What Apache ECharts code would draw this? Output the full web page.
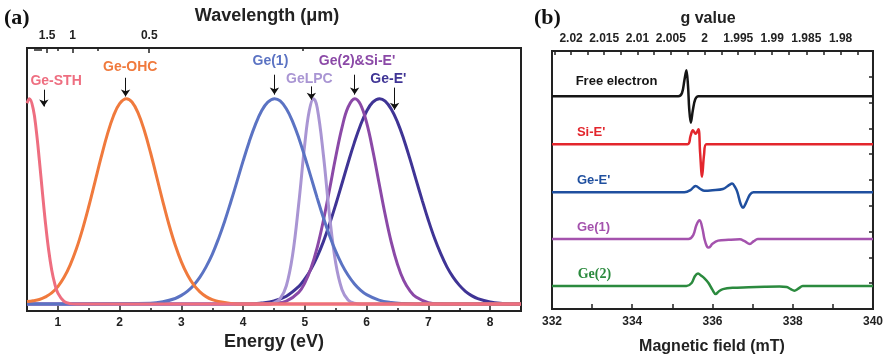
<!DOCTYPE html>
<html><head><meta charset="utf-8">
<script src="https://cdn.jsdelivr.net/npm/echarts@6/dist/echarts.min.js"></script>
<style>html,body{margin:0;padding:0;background:#fff}#c{width:886px;height:357px}</style>
</head><body><div id="c"></div>
<script>
// ---------- Panel (a) data: normalized band intensity vs energy (eV) ----------
const energyTicks = [1, 2, 3, 4, 5, 6, 7, 8];
const energyMinorTicks = [1.5, 2.5, 3.5, 4.5, 5.5, 6.5, 7.5];
const wavelengthLabels = [1.5, 1, 0.5];
const wavelengthMajorTicks = [1.5, 1, 0.5];
const wavelengthMinorTicks = [2, 1.9, 1.8, 1.7, 1.25, 0.75, 0.25];

const steE = [0.5, 0.54, 0.6, 0.65, 0.7, 0.75, 0.8, 0.85, 0.9, 0.95, 1.0, 1.1, 1.2, 1.3, 8.5];
const steI = [0.978, 1, 0.951, 0.846, 0.701, 0.543, 0.392, 0.264, 0.166, 0.098, 0.053, 0.013, 0.002, 0, 0];

const ohcE = [0.5, 0.6, 0.7, 0.8, 0.9, 1.0, 1.1, 1.2, 1.3, 1.4, 1.5, 1.6, 1.7, 1.8, 1.9, 2.0, 2.11, 2.2, 2.3, 2.4, 2.5, 2.6, 2.7, 2.8, 2.9, 3.0, 3.1, 3.2, 3.3, 3.4, 3.5, 3.6, 3.8, 4.0, 8.5];
const ohcI = [0.012, 0.016, 0.022, 0.035, 0.054, 0.085, 0.130, 0.191, 0.269, 0.365, 0.475, 0.594, 0.714, 0.825, 0.916, 0.976, 1, 0.984, 0.930, 0.845, 0.738, 0.619, 0.499, 0.386, 0.287, 0.205, 0.141, 0.093, 0.059, 0.036, 0.021, 0.012, 0.003, 0, 0];

const ge1E = [0.5, 2.5, 2.7, 2.9, 3.0, 3.1, 3.2, 3.3, 3.4, 3.5, 3.6, 3.7, 3.8, 3.9, 4.0, 4.1, 4.2, 4.3, 4.4, 4.51, 4.6, 4.7, 4.8, 4.9, 5.0, 5.1, 5.2, 5.3, 5.4, 5.5, 5.6, 5.7, 5.8, 5.9, 6.0, 6.2, 6.4, 6.6, 6.8, 8.5];
const ge1I = [0, 0.004, 0.011, 0.027, 0.042, 0.063, 0.092, 0.131, 0.181, 0.242, 0.317, 0.402, 0.497, 0.596, 0.697, 0.792, 0.875, 0.941, 0.983, 1, 0.989, 0.951, 0.890, 0.810, 0.716, 0.617, 0.516, 0.420, 0.333, 0.256, 0.192, 0.140, 0.099, 0.068, 0.046, 0.019, 0.007, 0.002, 0, 0];

const lpcE = [0.5, 4.4, 4.5, 4.6, 4.7, 4.8, 4.9, 5.0, 5.07, 5.14, 5.2, 5.3, 5.4, 5.5, 5.6, 5.7, 5.8, 5.9, 8.5];
const lpcI = [0, 0, 0.006, 0.026, 0.089, 0.236, 0.487, 0.783, 0.94, 1, 0.956, 0.726, 0.430, 0.198, 0.071, 0.020, 0.004, 0, 0];

const ge2E = [0.5, 4.3, 4.5, 4.7, 4.9, 5.0, 5.1, 5.2, 5.3, 5.4, 5.5, 5.6, 5.7, 5.81, 5.9, 6.0, 6.1, 6.2, 6.3, 6.4, 6.5, 6.6, 6.7, 6.8, 7.0, 7.2, 7.4, 8.5];
const ge2I = [0, 0, 0.003, 0.014, 0.057, 0.103, 0.175, 0.276, 0.407, 0.559, 0.717, 0.858, 0.959, 1, 0.972, 0.883, 0.748, 0.591, 0.436, 0.300, 0.193, 0.115, 0.065, 0.034, 0.007, 0.001, 0, 0];

const geeE = [0.5, 4.1, 4.3, 4.5, 4.7, 4.9, 5.0, 5.1, 5.2, 5.3, 5.4, 5.5, 5.6, 5.7, 5.8, 5.9, 6.0, 6.1, 6.21, 6.3, 6.4, 6.5, 6.6, 6.7, 6.8, 6.9, 7.0, 7.1, 7.2, 7.3, 7.4, 7.5, 7.6, 7.7, 7.8, 8.0, 8.2, 8.4, 8.5];
const geeI = [0, 0, 0.005, 0.015, 0.038, 0.085, 0.122, 0.170, 0.231, 0.304, 0.390, 0.485, 0.586, 0.688, 0.785, 0.871, 0.939, 0.983, 1, 0.988, 0.949, 0.886, 0.804, 0.708, 0.606, 0.505, 0.408, 0.320, 0.245, 0.181, 0.131, 0.092, 0.062, 0.041, 0.026, 0.010, 0.003, 0, 0];

const bandNames = ['Ge-E\'', 'Ge(2)&Si-E\'', 'GeLPC', 'Ge(1)', 'Ge-OHC', 'Ge-STH'];
const bandColors = ['#3f3495', '#8b49a7', '#a995d3', '#5b73c3', '#f07a3d', '#ee6e80'];
// arrow (x, top, tip) and label (x, y) positions in data units
const arrowE = [6.453, 5.806, 5.105, 4.507, 2.096, 0.773];
const arrowTop = [1.054, 1.117, 1.06, 1.117, 1.102, 1.044];
const arrowTip = [0.946, 1.02, 0.995, 1.02, 1.011, 0.962];
const labelE = [6.351, 5.845, 5.073, 4.442, 2.172, 0.971];
const labelY = [1.096, 1.182, 1.096, 1.182, 1.155, 1.084];

// ---------- Panel (b) data: EPR derivative spectra vs magnetic field (mT) ----------
const gLabels = ['2.02', '2.015', '2.01', '2.005', '2', '1.995', '1.99', '1.985', '1.98'];
const gTicks = [2.0225, 2.02, 2.0175, 2.015, 2.0125, 2.01, 2.0075, 2.005, 2.0025, 2.0, 1.9975, 1.995, 1.9925, 1.99, 1.9875, 1.985, 1.9825, 1.98, 1.9775];
const gFieldConst = 671.6; // mT at g = 1  (h*nu/muB)

const freeB = [332, 335.15, 335.24, 335.3, 335.35, 335.39, 335.42, 335.46, 335.51, 335.57, 335.65, 340];
const freeS = [0, 0, 0.12, 0.62, 1.0, 0.4, -0.5, -1.03, -0.55, -0.12, 0, 0];
const siB = [332, 335.38, 335.45, 335.51, 335.58, 335.65, 335.69, 335.74, 335.79, 335.85, 340];
const siS = [0, 0, 0.3, 0.54, 0.4, 0.58, -0.3, -1.26, -0.4, 0, 0];
const geEB = [332, 335.3, 335.45, 335.58, 335.7, 335.8, 336.0, 336.26, 336.42, 336.49, 336.56, 336.62, 336.7, 336.76, 336.84, 336.93, 337.02, 340];
const geES = [0, 0, 0.08, 0.24, 0.12, 0.05, 0.07, 0.12, 0.28, 0.33, 0.2, 0, -0.45, -0.6, -0.4, -0.1, 0, 0];
const ge1B = [332, 335.4, 335.52, 335.6, 335.68, 335.75, 335.8, 335.86, 335.91, 336.0, 336.14, 336.4, 336.68, 336.8, 336.93, 337.03, 337.13, 340];
const ge1S = [0, 0, 0.15, 0.55, 0.73, 0.4, 0, -0.28, -0.33, -0.18, -0.06, -0.03, -0.01, -0.08, -0.19, -0.08, 0, 0];
const ge2B = [332, 335.35, 335.48, 335.56, 335.64, 335.72, 335.8, 335.9, 336.0, 336.08, 336.16, 336.26, 336.5, 336.9, 337.3, 337.67, 337.85, 337.95, 338.04, 338.14, 338.25, 340];
const ge2S = [0, 0, 0.12, 0.38, 0.49, 0.4, 0.3, 0.12, -0.15, -0.31, -0.2, -0.12, -0.07, -0.05, -0.03, -0.02, -0.04, -0.12, -0.18, -0.1, 0, 0];

const eprNames = ['Free electron', 'Si-E\'', 'Ge-E\'', 'Ge(1)', 'Ge(2)'];
const eprColors = ['#151515', '#e3262d', '#1f4f9f', '#a452ad', '#2b8a3e'];
const eprOffsets = [8.25, 6.39, 4.53, 2.71, 0.89];
const eprLabelB = [332.59, 332.62, 332.62, 332.62, 332.64];
const eprLabelDY = [0.58, 0.45, 0.46, 0.44, 0.45];

// ---------- build ----------
const HC = 1.23984; // eV*um
const zip = (a, b, off) => a.map((v, i) => [v, b[i] + (off || 0)]);
const bandData = [zip(geeE, geeI), zip(ge2E, ge2I), zip(lpcE, lpcI), zip(ge1E, ge1I), zip(ohcE, ohcI), zip(steE, steI)];
const eprRaw = [[freeB, freeS], [siB, siS], [geEB, geES], [ge1B, ge1S], [ge2B, ge2S]];

const FONT = 'Liberation Sans, Arial, sans-serif';
const SERIF = 'Liberation Serif, Times New Roman, serif';
const AX = '#222';

const chart = echarts.init(document.getElementById('c'), null, {renderer: 'canvas'});

const baseAxis = (extra) => Object.assign({
  type: 'value', splitLine: {show: false},
  axisLine: {show: true, onZero: false, lineStyle: {color: AX, width: 2}},
}, extra);

const option = {
  animation: false,
  backgroundColor: '#fff',
  grid: [
    {left: 27, top: 48, width: 494, height: 263, show: true, borderColor: AX, borderWidth: 2},
    {left: 552, top: 51, width: 321, height: 258, show: true, borderColor: AX, borderWidth: 2}
  ],
  xAxis: [
    baseAxis({gridIndex: 0, position: 'bottom', min: 0.5, max: 8.5,
      axisTick: {inside: true, length: 6, customValues: energyTicks, lineStyle: {color: AX, width: 1.5}},
      axisLabel: {customValues: energyTicks, margin: 6, color: AX, fontSize: 12, fontWeight: 'bold', fontFamily: FONT}}),
    baseAxis({gridIndex: 0, position: 'bottom', min: 0.5, max: 8.5, axisLine: {show: false, onZero: false},
      axisTick: {inside: true, length: 3, customValues: energyMinorTicks, lineStyle: {color: AX, width: 1.5}},
      axisLabel: {show: false}}),
    baseAxis({gridIndex: 0, position: 'top', min: 0.5, max: 8.5,
      axisTick: {inside: true, length: 5, customValues: wavelengthMajorTicks.map(w => HC / w), lineStyle: {color: AX, width: 1.5}},
      axisLabel: {customValues: wavelengthLabels.map(w => HC / w), margin: 6, color: AX, fontSize: 12, fontWeight: 'bold', fontFamily: FONT,
        formatter: (v) => { let best = wavelengthLabels[0]; wavelengthLabels.forEach(w => { if (Math.abs(HC / w - v) < Math.abs(HC / best - v)) best = w; }); return String(best); }}}),
    baseAxis({gridIndex: 0, position: 'top', min: 0.5, max: 8.5, axisLine: {show: false, onZero: false},
      axisTick: {inside: true, length: 3, customValues: wavelengthMinorTicks.map(w => HC / w), lineStyle: {color: AX, width: 1.5}},
      axisLabel: {show: false}}),
    baseAxis({gridIndex: 1, position: 'bottom', min: 332, max: 340, interval: 1,
      axisTick: {inside: true, length: 5, lineStyle: {color: AX, width: 1.5}},
      axisLabel: {margin: 7, color: AX, fontSize: 12, fontWeight: 'bold', fontFamily: FONT, showMinLabel: true, showMaxLabel: true,
        formatter: (v) => (Math.round(v) % 2 === 0 ? String(v) : '')}}),
    baseAxis({gridIndex: 1, position: 'top', min: 332, max: 340,
      axisTick: {inside: true, length: 4, customValues: gTicks.map(g => gFieldConst / g), lineStyle: {color: AX, width: 1.5}},
      axisLabel: {customValues: gLabels.map(g => gFieldConst / parseFloat(g)), margin: 6, color: AX, fontSize: 12, fontWeight: 'bold', fontFamily: FONT,
        formatter: (v) => { let best = gLabels[0]; gLabels.forEach(g => { if (Math.abs(gFieldConst / parseFloat(g) - v) < Math.abs(gFieldConst / parseFloat(best) - v)) best = g; }); return best; }}})
  ],
  yAxis: [
    baseAxis({gridIndex: 0, position: 'left', min: -0.034, max: 1.247, axisTick: {show: false}, axisLabel: {show: false}}),
    baseAxis({gridIndex: 1, position: 'right', min: 0, max: 10, interval: 1,
      axisTick: {inside: true, length: 4, lineStyle: {color: AX, width: 1.5}}, axisLabel: {show: false}})
  ],
  series: []
};

bandData.forEach((d, i) => {
  option.series.push({
    type: 'line', name: bandNames[i], xAxisIndex: 0, yAxisIndex: 0, data: d,
    showSymbol: false, symbol: 'none', smooth: 0.4,
    lineStyle: {color: bandColors[i], width: 3}, z: 2 + i,
    markLine: {silent: true, symbol: ['none', 'arrow'], symbolSize: 7, animation: false,
      lineStyle: {color: '#111', width: 1, type: 'solid'}, itemStyle: {color: '#111'}, label: {show: false}, emphasis: {disabled: true},
      data: [[{coord: [arrowE[i], arrowTop[i]]}, {coord: [arrowE[i], arrowTip[i]]}]]}
  });
});

eprRaw.forEach((r, i) => {
  option.series.push({
    type: 'line', name: eprNames[i], xAxisIndex: 4, yAxisIndex: 1,
    data: zip(r[0], r[1], eprOffsets[i]),
    showSymbol: false, symbol: 'none', smooth: 0.35,
    lineStyle: {color: eprColors[i], width: 2.5}
  });
});

chart.setOption(option);

// ---------- annotations (text) ----------
const graphics = [];
const txt = (x, y, text, font, color, align) => graphics.push({
  type: 'text', x: x, y: y, silent: true, z: 100,
  style: {text: text, font: font, fill: color, align: align || 'center', verticalAlign: 'middle'}
});
bandNames.forEach((n, i) => {
  const p = chart.convertToPixel({xAxisIndex: 0, yAxisIndex: 0}, [labelE[i], labelY[i]]);
  txt(p[0], p[1], n, 'bold 14px ' + FONT, bandColors[i]);
});
eprNames.forEach((n, i) => {
  const p = chart.convertToPixel({xAxisIndex: 4, yAxisIndex: 1}, [eprLabelB[i], eprOffsets[i] + eprLabelDY[i]]);
  const f = (n === 'Ge(2)') ? 'bold 14px ' + SERIF : 'bold 13px ' + FONT;
  txt(p[0], p[1], n, f, eprColors[i], 'left');
});
txt(4, 18, '(a)', 'bold 22px ' + SERIF, '#111', 'left');
txt(267, 16, 'Wavelength (μm)', 'bold 18px ' + FONT, '#222');
txt(274, 342, 'Energy (eV)', 'bold 18px ' + FONT, '#222');
txt(534, 18, '(b)', 'bold 22px ' + SERIF, '#111', 'left');
txt(708, 19, 'g value', 'bold 16px ' + FONT, '#222');
txt(712, 347, 'Magnetic field (mT)', 'bold 16px ' + FONT, '#222');
chart.setOption({graphic: graphics});
</script></body></html>
